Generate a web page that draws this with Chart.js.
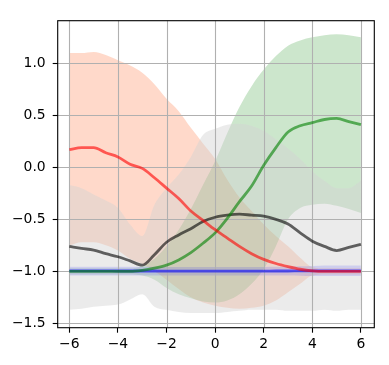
<!DOCTYPE html>
<html>
<head>
<meta charset="utf-8">
<script src="https://cdn.jsdelivr.net/npm/chart.js@4.4.1/dist/chart.umd.min.js"></script>
<style>
  body { margin: 0; background: #fff; }
  canvas { display: block; }
</style>
</head>
<body>
<canvas id="chart" width="389" height="365"></canvas>
<script>
// sample positions
var xs = [-6, -5.5, -5, -4.5, -4, -3.5, -3, -2.5, -2, -1.5, -1, -0.5, 0, 0.5, 1, 1.5, 2, 2.5, 3, 3.5, 4, 4.5, 5, 5.5, 6];

// red series
var redMean  = [0.17, 0.19, 0.19, 0.14, 0.10, 0.03, -0.01, -0.10, -0.20, -0.30, -0.42, -0.51, -0.60, -0.68, -0.76, -0.83, -0.885, -0.925, -0.955, -0.98, -0.995, -1.0, -1.0, -1.0, -1.0];
var redUpper = [1.10, 1.10, 1.11, 1.08, 1.03, 0.98, 0.91, 0.80, 0.66, 0.54, 0.38, 0.23, 0.08, -0.12, -0.29, -0.42, -0.55, -0.66, -0.76, -0.87, -0.96, -0.97, -0.97, -0.97, -0.97];
var redLower = [-0.75, -0.72, -0.72, -0.75, -0.80, -0.88, -0.93, -1.00, -1.08, -1.17, -1.25, -1.30, -1.33, -1.35, -1.36, -1.35, -1.33, -1.28, -1.20, -1.12, -1.04, -1.03, -1.03, -1.03, -1.03];

// green series
var greenMean  = [-1.0, -1.0, -1.0, -1.0, -1.0, -1.0, -0.99, -0.97, -0.94, -0.89, -0.82, -0.73, -0.63, -0.49, -0.33, -0.18, 0.02, 0.19, 0.34, 0.40, 0.43, 0.46, 0.47, 0.44, 0.41];
var greenUpper = [-0.97, -0.97, -0.97, -0.97, -0.97, -0.97, -0.95, -0.88, -0.76, -0.60, -0.40, -0.17, 0.06, 0.33, 0.58, 0.78, 0.94, 1.07, 1.17, 1.22, 1.25, 1.27, 1.28, 1.27, 1.25];
var greenLower = [-1.03, -1.03, -1.03, -1.03, -1.03, -1.03, -1.04, -1.08, -1.16, -1.22, -1.26, -1.29, -1.30, -1.28, -1.22, -1.12, -0.98, -0.76, -0.50, -0.39, -0.36, -0.35, -0.37, -0.40, -0.44];

// grey series
var greyMean  = [-0.76, -0.78, -0.795, -0.83, -0.86, -0.90, -0.94, -0.84, -0.72, -0.65, -0.59, -0.52, -0.48, -0.46, -0.45, -0.46, -0.47, -0.50, -0.545, -0.63, -0.71, -0.76, -0.80, -0.77, -0.74];
var greyUpper = [-0.17, -0.20, -0.26, -0.32, -0.39, -0.55, -0.66, -0.36, -0.20, -0.07, 0.10, 0.31, 0.37, 0.41, 0.42, 0.40, 0.35, 0.27, 0.18, 0.08, -0.04, -0.13, -0.20, -0.20, -0.13];
var greyLower = [-1.37, -1.36, -1.34, -1.33, -1.32, -1.27, -1.22, -1.34, -1.37, -1.39, -1.40, -1.40, -1.40, -1.39, -1.38, -1.37, -1.37, -1.37, -1.38, -1.38, -1.38, -1.37, -1.38, -1.37, -1.37];

// blue series
var blueMean  = [-0.995, -0.995, -0.996, -0.996, -0.997, -0.997, -0.997, -0.997, -0.998, -0.998, -0.998, -0.998, -0.998, -0.998, -0.998, -0.998, -0.998, -0.997, -0.997, -0.996, -0.996, -0.995, -0.995, -0.995, -0.995];
var blueUpper = [-0.955, -0.955, -0.956, -0.956, -0.957, -0.957, -0.957, -0.957, -0.958, -0.958, -0.958, -0.958, -0.958, -0.958, -0.958, -0.958, -0.958, -0.957, -0.955, -0.952, -0.948, -0.945, -0.944, -0.944, -0.944];
var blueLower = [-1.04, -1.04, -1.04, -1.04, -1.04, -1.04, -1.04, -1.04, -1.04, -1.04, -1.04, -1.04, -1.04, -1.04, -1.04, -1.04, -1.04, -1.04, -1.04, -1.043, -1.045, -1.045, -1.045, -1.045, -1.045];

var xTicks = [-6, -4, -2, 0, 2, 4, 6];
var yTicks = [-1.5, -1.0, -0.5, 0.0, 0.5, 1.0];

function pts(arr) {
    return arr.map(function (v, i) { return { x: xs[i], y: v }; });
}

function fmt(v, digits) {
    var s = v.toFixed(digits);
    if (v < 0) s = '\u2212' + s.slice(1);
    return s;
}

function band(upper, lower, colour, target, order) {
    return [
        { data: pts(upper), borderWidth: 0, pointRadius: 0, fill: { target: target }, backgroundColor: colour, order: order },
        { data: pts(lower), borderWidth: 0, pointRadius: 0, fill: false, order: order }
    ];
}

function meanLine(values, colour, order) {
    return { data: pts(values), borderColor: colour, borderWidth: 2.8, pointRadius: 0, fill: false, order: order };
}

// higher order is painted first: red band at the bottom, then green, grey, blue
var datasets = []
    .concat(band(redUpper, redLower, 'rgba(255,160,122,0.4)', 1, 23))
    .concat(band(greyUpper, greyLower, 'rgba(211,211,211,0.45)', 3, 21))
    .concat(band(greenUpper, greenLower, 'rgba(0,128,0,0.2)', 5, 22))
    .concat(band(blueUpper, blueLower, 'rgba(0,0,255,0.12)', 7, 20));
datasets.push(meanLine(blueMean, 'rgba(0,0,255,0.6)', 4));
datasets.push(meanLine(greyMean, 'rgba(0,0,0,0.6)', 3));
datasets.push(meanLine(greenMean, 'rgba(0,128,0,0.6)', 2));
datasets.push(meanLine(redMean, 'rgba(255,0,0,0.6)', 1));

// grid above the bands, frame around the axes
var frame = {
    id: 'frame',
    beforeDatasetsDraw: function (chart) {
        var ctx = chart.ctx, a = chart.chartArea;
        ctx.save();
        ctx.strokeStyle = '#b0b0b0';
        ctx.lineWidth = 1.1;
        ctx.beginPath();
        xTicks.forEach(function (v) {
            var p = Math.round(chart.scales.x.getPixelForValue(v)) + 0.5;
            ctx.moveTo(p, a.top);
            ctx.lineTo(p, a.bottom);
        });
        yTicks.forEach(function (v) {
            var p = Math.round(chart.scales.y.getPixelForValue(v)) + 0.5;
            ctx.moveTo(a.left, p);
            ctx.lineTo(a.right, p);
        });
        ctx.stroke();
        ctx.restore();
    },
    afterDraw: function (chart) {
        var ctx = chart.ctx, a = chart.chartArea;
        ctx.save();
        ctx.strokeStyle = '#000';
        ctx.lineWidth = 1.1;
        ctx.strokeRect(a.left, a.top, a.right - a.left, a.bottom - a.top);
        ctx.restore();
    }
};

var tickFont = { family: 'DejaVu Sans', size: 13.9 };

new Chart(document.getElementById('chart'), {
    type: 'line',
    data: { datasets: datasets },
    options: {
        responsive: false,
        animation: false,
        devicePixelRatio: 1,
        layout: { padding: { top: 20.7, right: 14.7, left: 0, bottom: 0 } },
        elements: { line: { cubicInterpolationMode: 'monotone' } },
        plugins: {
            legend: { display: false },
            tooltip: { enabled: false },
            filler: { drawTime: 'beforeDatasetsDraw' }
        },
        scales: {
            x: {
                type: 'linear',
                min: -6.48,
                max: 6.55,
                border: { display: false },
                grid: { drawOnChartArea: false, drawTicks: true, tickLength: 5, tickColor: '#000', tickWidth: 1.1 },
                ticks: { color: '#000', font: tickFont, padding: 3, maxRotation: 0, callback: function (v) { return fmt(v, 0); } },
                afterBuildTicks: function (s) { s.ticks = xTicks.map(function (v) { return { value: v }; }); },
                afterFit: function (s) { s.height = 37.3; }
            },
            y: {
                type: 'linear',
                min: -1.542,
                max: 1.41,
                border: { display: false },
                grid: { drawOnChartArea: false, drawTicks: true, tickLength: 5, tickColor: '#000', tickWidth: 1.1 },
                ticks: { color: '#000', font: tickFont, padding: 7, callback: function (v) { return fmt(v, 1); } },
                afterBuildTicks: function (s) { s.ticks = yTicks.map(function (v) { return { value: v }; }); },
                afterFit: function (s) { s.width = 57.7; }
            }
        }
    },
    plugins: [frame]
});
</script>
</body>
</html>
